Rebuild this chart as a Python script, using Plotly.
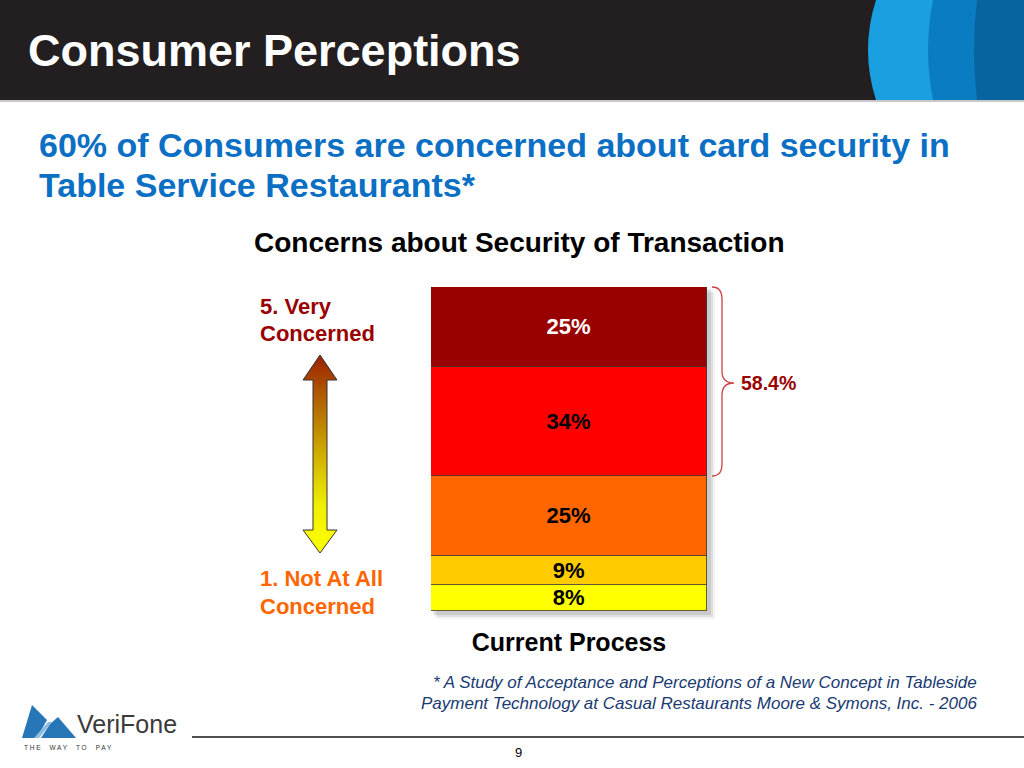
import plotly.graph_objects as go

# ---- data ----
categories = ["Current Process"]
levels = ["1. Not At All Concerned", "2", "3", "4", "5. Very Concerned"]
values = [8, 9, 25, 34, 25]
labels = ["8%", "9%", "25%", "34%", "25%"]
colors = ["#ffff00", "#ffcc00", "#ff6600", "#ff0000", "#990000"]
text_colors = ["#000000", "#000000", "#000000", "#000000", "#ffffff"]
top_two_label = "58.4%"

W, H = 1024, 768
FONT = "Liberation Sans, Arial, Helvetica, sans-serif"

def px(x):
    return x / W

def py(y):
    return (H - y) / H

fig = go.Figure()

for lv, v, lab, c, tc in zip(levels, values, labels, colors, text_colors):
    fig.add_trace(go.Bar(
        x=categories, y=[v], name=lv, text=[lab],
        marker=dict(color=c, line=dict(color="#3a3a3a", width=0.8)),
        textposition="inside", insidetextanchor="middle",
        textfont=dict(family=FONT, size=22, color=tc, weight="bold"),
        constraintext="none", cliponaxis=False, width=1,
        hoverinfo="skip", showlegend=False,
    ))

# bar area in pixels: x 431..707, y 287 (top) .. 611 (bottom)
bx0, bx1, by_top, by_bot = 431, 707, 287, 611
total = sum(values)

# gradient arrow on an overlay pixel axis
arrow_x = [320, 337, 327, 327, 337, 320, 303, 313, 313, 303, 320]
arrow_y = [355, 380, 380, 530, 530, 553, 530, 530, 380, 380, 355]
fig.add_trace(go.Scatter(
    x=arrow_x, y=arrow_y, xaxis="x2", yaxis="y2", mode="lines",
    fill="toself", line=dict(color="#333333", width=1),
    fillgradient=dict(type="vertical", start=355, stop=553,
                      colorscale=[[0, "#9a2200"], [0.45, "#c9a000"], [0.75, "#eeee00"], [1, "#ffff00"]]),
    hoverinfo="skip", showlegend=False,
))

shapes = []
# header (paper-referenced, below everything)
shapes.append(dict(type="rect", xref="paper", yref="paper", x0=0, x1=1, y0=py(100), y1=1,
                   fillcolor="#231f20", line=dict(width=0), layer="below"))
shapes.append(dict(type="path", xref="x2", yref="y2",
                   path="M 876 0 Q 860 50 876 100 L 1024 100 L 1024 0 Z",
                   fillcolor="#1aa0e0", line=dict(width=0)))
shapes.append(dict(type="path", xref="x2", yref="y2",
                   path="M 933 0 Q 923 50 933 100 L 1024 100 L 1024 0 Z",
                   fillcolor="#0a7cc2", line=dict(width=0)))
shapes.append(dict(type="path", xref="x2", yref="y2",
                   path="M 977 0 Q 971 50 977 100 L 1024 100 L 1024 0 Z",
                   fillcolor="#07649f", line=dict(width=0)))
shapes.append(dict(type="line", xref="x2", yref="y2", x0=0, x1=W, y0=101, y1=101,
                   line=dict(color="#c8c8c8", width=2)))
# bar shadow (paper-referenced, below the bars)
for i, op in enumerate([0.05, 0.07, 0.09]):
    d = 6 - i * 2
    shapes.append(dict(type="rect", xref="paper", yref="paper",
                       x0=px(bx0 + d), x1=px(bx1 + d + 2),
                       y0=py(by_bot + d + 2), y1=py(by_top + d),
                       fillcolor=f"rgba(0,0,0,{op})", line=dict(width=0), layer="below"))
# brace
shapes.append(dict(type="path", xref="x2", yref="y2",
                   path="M 712 287 Q 722 287 722 299 L 722 371 Q 722 383 734 383 "
                        "Q 722 383 722 395 L 722 464 Q 722 476 712 476",
                   line=dict(color="#d04040", width=1.3)))
# footer line
shapes.append(dict(type="line", xref="x2", yref="y2", x0=192, x1=W, y0=737, y1=737,
                   line=dict(color="#505050", width=2)))
# logo triangles
shapes.append(dict(type="path", xref="x2", yref="y2",
                   path="M 22 738 L 32 705 L 47 720 L 37 738 Z",
                   fillcolor="#2676b8", line=dict(width=0)))
shapes.append(dict(type="path", xref="x2", yref="y2",
                   path="M 41 738 L 50 724 L 58 717 L 76 738 Z",
                   fillcolor="#2676b8", line=dict(width=0)))
shapes.append(dict(type="path", xref="x2", yref="y2",
                   path="M 34 738 L 48 722 L 52 722 L 39 738 Z",
                   fillcolor="#8fbde0", line=dict(width=0)))

annotations = []
def txt(x, y, s, size, color, bold=False, italic=False, xanchor="left", yanchor="middle"):
    annotations.append(dict(xref="x2", yref="y2", x=x, y=y, text=s, showarrow=False,
                            xanchor=xanchor, yanchor=yanchor,
                            align=xanchor if xanchor != "center" else "center",
                            font=dict(family=FONT, size=size, color=color,
                                      weight="bold" if bold else "normal",
                                      style="italic" if italic else "normal")))

txt(26, 50, "Consumer Perceptions", 45, "#ffffff", bold=True)
txt(37, 145, "60% of Consumers are concerned about card security in", 34, "#0b6fc4", bold=True)
txt(37, 185, "Table Service Restaurants*", 34, "#0b6fc4", bold=True)
txt(519, 242, "Concerns about Security of Transaction", 28, "#000000", bold=True, xanchor="center")
txt(258, 306, "5. Very", 22, "#990000", bold=True)
txt(258, 333, "Concerned", 22, "#990000", bold=True)
txt(258, 578, "1. Not At All", 22, "#ff6600", bold=True)
txt(258, 606, "Concerned", 22, "#ff6600", bold=True)
txt(739, 383, top_two_label, 19.5, "#990000", bold=True)
txt(979, 682, "* A Study of Acceptance and Perceptions of a New Concept in Tableside", 17, "#1a3a72", italic=True, xanchor="right")
txt(979, 703, "Payment Technology at Casual Restaurants Moore & Symons, Inc. - 2006", 17, "#1a3a72", italic=True, xanchor="right")
txt(518, 752, "9", 13, "#000000", xanchor="center")
txt(75, 724, "VeriFone", 25, "#3a3a3a")
txt(22, 747, "T H E &nbsp; &nbsp; W A Y &nbsp; &nbsp; T O &nbsp; &nbsp; P A Y", 6.5, "#333333")

fig.update_layout(
    width=W, height=H,
    margin=dict(l=0, r=0, t=0, b=0),
    paper_bgcolor="#ffffff", plot_bgcolor="rgba(0,0,0,0)",
    barmode="stack", bargap=0,
    xaxis=dict(domain=[px(bx0), px(bx1)], showgrid=False, zeroline=False, showline=False,
               tickfont=dict(family=FONT, size=25, color="#000000", weight="bold"),
               ticks="", ticklabelstandoff=14, fixedrange=True),
    yaxis=dict(domain=[py(by_bot), py(by_top)], range=[0, total],
               visible=False, fixedrange=True),
    xaxis2=dict(domain=[0, 1], range=[0, W], visible=False, anchor="y2", fixedrange=True),
    yaxis2=dict(domain=[0, 1], range=[H, 0], visible=False, anchor="x2", fixedrange=True),
    shapes=shapes, annotations=annotations,
)

fig.write_html("out.html", config={"displayModeBar": False},
               post_script="document.body.style.margin='0px';document.body.style.overflow='hidden';")
